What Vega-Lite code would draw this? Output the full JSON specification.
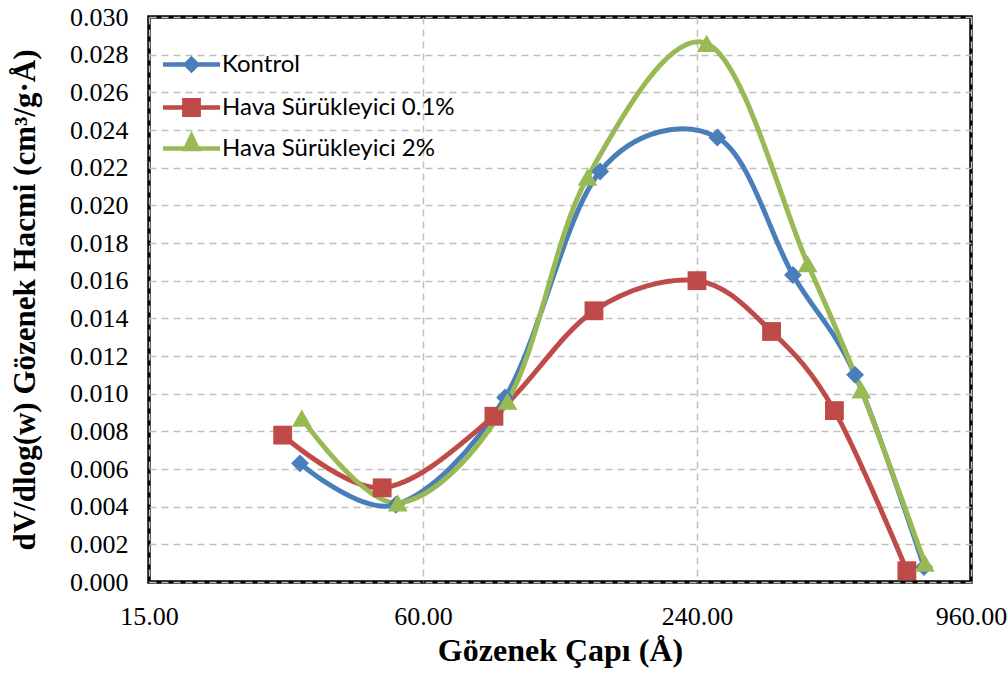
{
  "$schema": "https://vega.github.io/schema/vega-lite/v6.json",
  "autosize": "none",
  "width": 822,
  "height": 565,
  "padding": {"left": 149, "top": 17, "right": 36, "bottom": 95},
  "background": "white",
  "config": {
    "view": {"stroke": "#000000", "strokeWidth": 3.5},
    "axis": {"gridColor": "#bfbfbf", "gridDash": [7, 5], "gridWidth": 1.5, "domain": false, "ticks": false},
    "legend": {
      "title": null, "orient": "none", "legendX": 14, "padding": 0,
      "symbolSize": 3249, "labelFont": "Lato", "labelFontSize": 24, "labelColor": "#000", "labelOffset": 2,
      "labelLimit": 500, "symbolStrokeWidth": 0, "symbolOpacity": 1
    }
  },
  "data": {
    "values": [
      {"series": "Kontrol", "d": 32.2, "v": 0.0063},
      {"series": "Kontrol", "d": 52.3, "v": 0.0041},
      {"series": "Kontrol", "d": 90.9, "v": 0.0098},
      {"series": "Kontrol", "d": 147, "v": 0.0218},
      {"series": "Kontrol", "d": 266, "v": 0.0236},
      {"series": "Kontrol", "d": 390, "v": 0.0163},
      {"series": "Kontrol", "d": 534, "v": 0.0110},
      {"series": "Kontrol", "d": 757, "v": 0.0008},
      {"series": "Hava Sürükleyici 0.1%", "d": 29.5, "v": 0.0078},
      {"series": "Hava Sürükleyici 0.1%", "d": 48.8, "v": 0.0050},
      {"series": "Hava Sürükleyici 0.1%", "d": 85.9, "v": 0.0088},
      {"series": "Hava Sürükleyici 0.1%", "d": 142.5, "v": 0.0144},
      {"series": "Hava Sürükleyici 0.1%", "d": 240, "v": 0.0160},
      {"series": "Hava Sürükleyici 0.1%", "d": 350, "v": 0.0133},
      {"series": "Hava Sürükleyici 0.1%", "d": 481, "v": 0.0091},
      {"series": "Hava Sürükleyici 0.1%", "d": 694, "v": 0.0006},
      {"series": "Hava Sürükleyici 2%", "d": 32.5, "v": 0.0087},
      {"series": "Hava Sürükleyici 2%", "d": 52.8, "v": 0.0042},
      {"series": "Hava Sürükleyici 2%", "d": 92, "v": 0.0096},
      {"series": "Hava Sürükleyici 2%", "d": 138, "v": 0.0215},
      {"series": "Hava Sürükleyici 2%", "d": 252, "v": 0.0286},
      {"series": "Hava Sürükleyici 2%", "d": 420, "v": 0.0169},
      {"series": "Hava Sürükleyici 2%", "d": 551, "v": 0.0102},
      {"series": "Hava Sürükleyici 2%", "d": 760, "v": 0.0010}
    ]
  },
  "encoding": {
    "x": {
      "field": "d", "type": "quantitative",
      "scale": {"type": "log", "base": 4, "domain": [15, 960], "nice": false},
      "axis": {
        "values": [15, 60, 240, 960], "format": ".2f",
        "labelFont": "Liberation Serif", "labelFontSize": 26, "labelColor": "#000", "labelPadding": 21,
        "labelOverlap": false, "labelFlush": false,
        "title": "Gözenek Çapı (Å)", "titleFont": "Liberation Serif", "titleFontSize": 32, "titleFontWeight": "bold",
        "titleColor": "#000", "titlePadding": 6
      }
    },
    "y": {
      "field": "v", "type": "quantitative",
      "scale": {"domain": [0, 0.03], "nice": false},
      "axis": {
        "values": [0, 0.002, 0.004, 0.006, 0.008, 0.01, 0.012, 0.014, 0.016, 0.018, 0.02, 0.022, 0.024, 0.026, 0.028, 0.03],
        "format": ".3f",
        "labelFont": "Liberation Serif", "labelFontSize": 26, "labelColor": "#000", "labelPadding": 21,
        "labelOverlap": false, "labelFlush": false,
        "title": "dV/dlog(w) Gözenek Hacmi (cm³/g·Å)", "titleFont": "Liberation Serif", "titleFontSize": 31, "titleFontWeight": "bold",
        "titleColor": "#000", "titlePadding": 28
      }
    }
  },
  "layer": [
    {
      "mark": {"type": "line", "interpolate": "cardinal", "strokeWidth": 5},
      "encoding": {
        "color": {
          "field": "series", "type": "nominal", "legend": null,
          "scale": {"domain": ["Kontrol", "Hava Sürükleyici 0.1%", "Hava Sürükleyici 2%"], "range": ["#4A7EBB", "#BE4B48", "#98B954"]}
        }
      }
    },
    {
      "mark": {"type": "point", "filled": true, "opacity": 1, "strokeWidth": 0},
      "encoding": {
        "color": {
          "field": "series", "type": "nominal", "legend": null,
          "scale": {"domain": ["Kontrol", "Hava Sürükleyici 0.1%", "Hava Sürükleyici 2%"], "range": ["#4A7EBB", "#BE4B48", "#98B954"]}
        },
        "shape": {
          "field": "series", "type": "nominal", "legend": null,
          "scale": {"domain": ["Kontrol", "Hava Sürükleyici 0.1%", "Hava Sürükleyici 2%"], "range": ["diamond", "square", "triangle-up"]}
        },
        "size": {
          "field": "series", "type": "nominal", "legend": null,
          "scale": {"domain": ["Kontrol", "Hava Sürükleyici 0.1%", "Hava Sürükleyici 2%"], "range": [320, 390, 420]}
        }
      }
    },
    {
      "transform": [{"filter": "datum.series === 'Kontrol'"}],
      "mark": {"type": "point", "filled": true, "opacity": 0, "color": "#4A7EBB"},
      "encoding": {
        "shape": {
          "field": "series", "type": "nominal",
          "scale": {"domain": ["Kontrol"], "range": ["M-1,-0.075L-0.23,-0.075L0,-0.31L0.23,-0.075L1,-0.075L1,0.075L0.23,0.075L0,0.31L-0.23,0.075L-1,0.075Z"]},
          "legend": {"legendY": 19}
        }
      }
    },
    {
      "transform": [{"filter": "datum.series === 'Hava Sürükleyici 0.1%'"}],
      "mark": {"type": "point", "filled": true, "opacity": 0, "color": "#BE4B48"},
      "encoding": {
        "shape": {
          "field": "series", "type": "nominal",
          "scale": {"domain": ["Hava Sürükleyici 0.1%"], "range": ["M-1,-0.075L-0.33,-0.075L-0.33,-0.33L0.33,-0.33L0.33,-0.075L1,-0.075L1,0.075L0.33,0.075L0.33,0.33L-0.33,0.33L-0.33,0.075L-1,0.075Z"]},
          "legend": {"legendY": 62}
        }
      }
    },
    {
      "transform": [{"filter": "datum.series === 'Hava Sürükleyici 2%'"}],
      "mark": {"type": "point", "filled": true, "opacity": 0, "color": "#98B954"},
      "encoding": {
        "shape": {
          "field": "series", "type": "nominal",
          "scale": {"domain": ["Hava Sürükleyici 2%"], "range": ["M-1,-0.075L-0.26,-0.075L0,-0.62L0.26,-0.075L1,-0.075L1,0.075L0.34,0.075L0.35,0.1L-0.35,0.1L-0.34,0.075L-1,0.075Z"]},
          "legend": {"legendY": 103}
        }
      }
    }
  ],
  "resolve": {"scale": {"shape": "independent", "size": "independent"}, "legend": {"shape": "independent"}}
}
